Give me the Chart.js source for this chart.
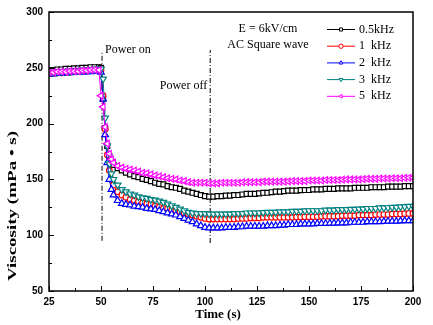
<!DOCTYPE html>
<html>
<head>
<meta charset="utf-8">
<script src="https://cdn.jsdelivr.net/npm/chart.js@4.4.0/dist/chart.umd.min.js"></script>
<style>
  body { margin: 0; background: #fff; }
  #box { width: 433px; height: 325px; }
</style>
</head>
<body>
<div id="box"><canvas id="myChart" width="433" height="325"></canvas></div>
<script>
// sampling times (s)
var times = [25,27,29,31,33,35,37,39,41,43,45,47,49,
    50,51,52,53,54,55,
    56,58,60,62,64,66,68,70,72,74,76,78,80,82,84,86,88,90,92,94,96,98,100,
    102,104,106,108,110,112,114,116,118,120,122,124,126,128,130,132,134,136,138,140,
    142,144,146,148,150,152,154,156,158,160,162,164,166,168,170,172,174,176,178,180,
    182,184,186,188,190,192,194,196,198,200];

// viscosity (mPa s) for each frequency
var visc05 = [248,248,248.5,248.5,249,249,249.5,249.5,250,250,250.5,250.5,250.5,
    250,222,196,180,171,166,
    163,160,158,156,154.5,153,152,150.5,149.5,148.5,147,146,145.5,144,143,142.5,141.5,140,139,138,137,136,135,
    134.5,134.5,135,135,135.5,135.5,136,136,136.5,137,
    137,137,137.5,138,138,138.5,139,139,139.5,140,
    140,140,140.4,140.5,140.5,141,141,141,141.5,141.5,
    141.5,142,142,142,142,142.5,142.5,142.5,142.5,143,
    143,143,143,143.5,143.5,143.5,143.5,144,144,144];

var visc1 = [245,245,245.5,245.5,246,246,246.5,246.5,247,247,247.5,248,248,
    248,225,195,172,158,150,
    145,139,136,134,132,131,130,129,128,127.5,126,125,124,123.5,122.5,122,121,120,119,118,117,116,115,
    114.5,114.5,114.5,114.5,114.5,114.5,114.5,115,115,115,
    115.5,115.5,115.5,116,116,116,116,116,116,116,
    116,116.3,116.3,116.5,116.5,116.5,116.5,117,117,117,
    117,117,117.5,117.5,117.5,117.5,118,118,118,118,
    118.5,118.5,118.5,118.5,119,119,119,119.3,119.5,119.5];

var visc2 = [244.5,244.5,245,245,245.5,245.5,246,246,246,246.5,246.5,247,247,
    246,222,190,165,150,141,
    136,131,128.5,127.5,127,126,125.5,125,124,123.5,123,122,121,120,119,118,116.5,115,113.5,112,110,108.5,107,
    106.5,106.5,106.5,106.5,107,107,107,107.5,107.5,108,
    108,108,108,108,108.5,108.5,108.5,109,109,109.5,
    109.5,109.5,110,110,110,110,110.5,110.5,110.5,110.8,
    110.8,111,111,111,111.5,111.5,111.5,111.5,112,112,
    112,112,112.3,112.5,112.5,112.5,112.8,113,113,113];

var visc3 = [246,246,246.5,246.5,247,247,247.5,247.5,248,248,248.5,249,249,
    249,240,205,180,164,155,
    150,145,141,139,137,136,134.5,133.6,133,132,131.5,130.7,129.5,128,126.5,125,123.5,122,120.5,120,119.5,119.4,119.4,
    119,119,119,119,119,119,119.5,119.5,119.5,120,
    120,120,120,120.3,120.5,120.5,120.5,121,121,121,
    121.5,121.5,121.5,121.8,122,122,122,122,122.5,122.5,
    122.5,123,123,123,123.3,123.3,123.5,123.5,124,124,
    124,124.5,124.5,124.7,125,125,125.5,125.5,126,126];

var visc5 = [246,246,246.5,246.5,246.5,247,247,247,247.5,247.5,248,248,248,
    225,215,197,182,173,168,
    165,162,160.5,159.5,158.8,158,157,155.8,155.5,154.5,153.5,152.8,152,151,150.5,150,149,148.5,147.5,147,147,147,147,
    146.5,146.5,146.5,147,147,147,147,147,147.5,147.5,
    147.5,147.5,147.5,148,148,148,148,148,148,148.3,
    148.5,148.5,148.5,148.5,149,149,149,149,149.5,149.5,
    149.5,149.5,149.8,150,150,150,150,150.3,150.5,150.5,
    150.5,150.8,150.8,150.8,151,151,151,151.3,151.5,151.5];

var seriesNames = ['0.5kHz', '1  kHz', '2  kHz', '3  kHz', '5  kHz'];
var seriesColors = ['#000000', '#ff0000', '#0000ff', '#008080', '#ff00ff'];
var seriesStyles = ['rect', 'circle', 'triangle', 'triangle', 'triangle'];
var seriesRotation = [0, 0, 0, 180, 270];
var seriesRadius = [3.5, 2.8, 3.8, 3.8, 3.8];

// field switched on / off
var eventTimes = [50.5, 102.5];
var eventLow = [95, 93];
var eventHigh = [265, 266];

var xTicks = [25, 50, 75, 100, 125, 150, 175, 200];
var yTicks = [50, 100, 150, 200, 250, 300];

function toPoints(xs, ys) {
    var pts = [];
    for (var i = 0; i < xs.length; i++) pts.push({x: xs[i], y: ys[i]});
    return pts;
}

var allSeries = [visc05, visc1, visc2, visc3, visc5];
var datasets = [];
for (var i = 0; i < allSeries.length; i++) {
    datasets.push({
        label: seriesNames[i],
        data: toPoints(times, allSeries[i]),
        borderColor: seriesColors[i],
        borderWidth: 1,
        pointStyle: seriesStyles[i],
        rotation: seriesRotation[i],
        pointRadius: seriesRadius[i],
        pointBorderWidth: 1.2,
        pointBorderColor: seriesColors[i],
        pointBackgroundColor: '#ffffff',
        tension: 0,
        order: 5 - i
    });
}
for (var k = 0; k < eventTimes.length; k++) {
    datasets.push({
        label: 'event' + k,
        data: toPoints([eventTimes[k], eventTimes[k]], [eventLow[k], eventHigh[k]]),
        borderColor: '#000',
        borderWidth: 1,
        borderDash: [5, 2, 1, 2],
        pointRadius: 0,
        order: 10
    });
}

var decorPlugin = {
    id: 'decor',
    afterDraw: function (chart) {
        var ctx = chart.ctx, a = chart.chartArea;
        var xs = chart.scales.x, ys = chart.scales.y;
        ctx.save();

        // frame
        ctx.strokeStyle = '#000';
        ctx.lineWidth = 1.5;
        ctx.strokeRect(a.left, a.top, a.right - a.left, a.bottom - a.top);

        // inward ticks, minor ones halfway
        ctx.lineWidth = 1;
        ctx.beginPath();
        for (var v = 25; v <= 200; v += 12.5) {
            var px = Math.round(xs.getPixelForValue(v)) + 0.5;
            var len = (v % 25 == 0) ? 5 : 3;
            ctx.moveTo(px, a.bottom);
            ctx.lineTo(px, a.bottom - len);
        }
        for (var w = 50; w <= 300; w += 25) {
            var py = Math.round(ys.getPixelForValue(w)) + 0.5;
            var len2 = (w % 50 == 0) ? 5 : 3;
            ctx.moveTo(a.left, py);
            ctx.lineTo(a.left + len2, py);
        }
        ctx.stroke();

        // notes
        ctx.fillStyle = '#000';
        ctx.font = '12px "Liberation Serif"';
        ctx.textBaseline = 'middle';
        ctx.textAlign = 'left';
        ctx.fillText('Power on', xs.getPixelForValue(eventTimes[0]) + 3, 50);
        ctx.textAlign = 'right';
        ctx.fillText('Power off', xs.getPixelForValue(eventTimes[1]) - 3, 86);
        ctx.textAlign = 'center';
        ctx.fillText('E = 6kV/cm', 268, 29);
        ctx.fillText('AC Square wave', 268, 45);

        // legend: line with marker
        ctx.textAlign = 'left';
        for (var i = 0; i < seriesNames.length; i++) {
            var ly = 29.5 + i * 16.7;
            ctx.strokeStyle = seriesColors[i];
            ctx.lineWidth = 1;
            ctx.beginPath();
            ctx.moveTo(327, ly);
            ctx.lineTo(355, ly);
            ctx.stroke();
            ctx.fillStyle = '#fff';
            Chart.helpers.drawPoint(ctx, {pointStyle: seriesStyles[i], rotation: seriesRotation[i], radius: 2.2, borderWidth: 1}, 341, ly);
            ctx.fillStyle = '#000';
            ctx.fillText(seriesNames[i], 359, ly);
        }

        // axis titles
        ctx.font = 'bold 13px "Liberation Serif"';
        ctx.textAlign = 'center';
        ctx.fillText('Time (s)', 218, 315);

        ctx.translate(13, 206);
        ctx.rotate(-Math.PI / 2);
        var ttl = 'Viscosity (mPa \u2022 s)';
        var tw = ctx.measureText(ttl).width;
        ctx.scale(150 / tw, 1);
        ctx.fillText(ttl, 0, 0);
        ctx.restore();
    }
};

var tickFont = {family: 'Liberation Sans', weight: 'bold', size: 10};

var ctxL = document.getElementById('myChart').getContext('2d');
var myLineChart = new Chart(ctxL, {
    type: 'line',
    data: { datasets: datasets },
    options: {
        responsive: false,
        animation: false,
        layout: { padding: { top: 9, right: 20, left: 0, bottom: 0 } },
        plugins: { legend: { display: false }, tooltip: { enabled: false } },
        scales: {
            x: {
                type: 'linear', min: 25, max: 200,
                afterBuildTicks: function (s) { s.ticks = xTicks.map(function (v) { return {value: v}; }); },
                ticks: { color: '#000', font: tickFont, padding: 5, maxRotation: 0 },
                grid: { display: false, drawTicks: false },
                border: { display: false },
                afterFit: function (s) { s.height = 34; }
            },
            y: {
                min: 50, max: 300,
                afterBuildTicks: function (s) { s.ticks = yTicks.map(function (v) { return {value: v}; }); },
                ticks: { color: '#000', font: tickFont, padding: 6 },
                grid: { display: false, drawTicks: false },
                border: { display: false },
                afterFit: function (s) { s.width = 49; }
            }
        }
    },
    plugins: [decorPlugin]
});
</script>
</body>
</html>
